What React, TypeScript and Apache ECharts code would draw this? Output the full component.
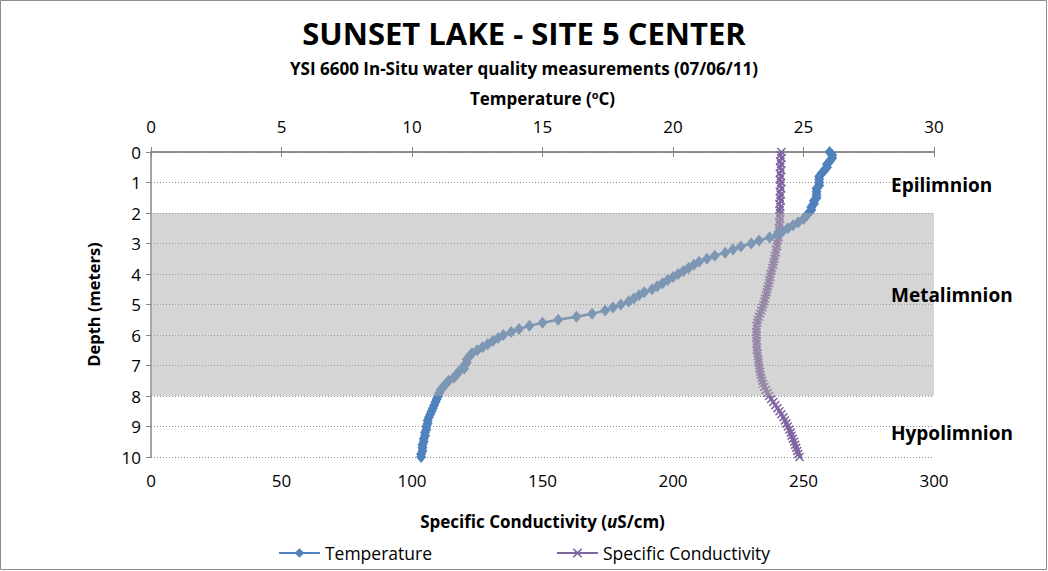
import React, { useEffect, useRef } from "react";
import * as echarts from "echarts";

const depths = [
  0.0, 0.1, 0.2, 0.3, 0.4, 0.5, 0.6, 0.7, 0.8, 0.9,
  1.0, 1.1, 1.2, 1.3, 1.4, 1.5, 1.6, 1.7, 1.8, 1.9,
  2.0, 2.1, 2.2, 2.3, 2.4, 2.5, 2.6, 2.7, 2.8, 2.9,
  3.0, 3.1, 3.2, 3.3, 3.4, 3.5, 3.6, 3.7, 3.8, 3.9,
  4.0, 4.1, 4.2, 4.3, 4.4, 4.5, 4.6, 4.7, 4.8, 4.9,
  5.0, 5.1, 5.2, 5.3, 5.4, 5.5, 5.6, 5.7, 5.8, 5.9,
  6.0, 6.1, 6.2, 6.3, 6.4, 6.5, 6.6, 6.7, 6.8, 6.9,
  7.0, 7.1, 7.2, 7.3, 7.4, 7.5, 7.6, 7.7, 7.8, 7.9,
  8.0, 8.1, 8.2, 8.3, 8.4, 8.5, 8.6, 8.7, 8.8, 8.9,
  9.0, 9.1, 9.2, 9.3, 9.4, 9.5, 9.6, 9.7, 9.8, 9.9,
  10.0,
];

const temperature = [
  26.0, 26.1, 26.1, 26.0, 25.9, 25.9, 25.8, 25.7, 25.6, 25.6,
  25.6, 25.6, 25.5, 25.5, 25.5, 25.5, 25.4, 25.4, 25.3, 25.3,
  25.2, 25.1, 25.0, 24.8, 24.6, 24.4, 24.2, 24.0, 23.7, 23.3,
  23.0, 22.6, 22.3, 22.0, 21.6, 21.3, 21.0, 20.8, 20.6, 20.4,
  20.2, 20.0, 19.8, 19.6, 19.4, 19.2, 18.9, 18.7, 18.5, 18.3,
  18.0, 17.7, 17.4, 16.9, 16.3, 15.6, 15.0, 14.5, 14.1, 13.8,
  13.5, 13.3, 13.1, 12.9, 12.7, 12.5, 12.3, 12.2, 12.1, 12.1,
  12.0, 12.0, 11.8, 11.7, 11.6, 11.4, 11.3, 11.2, 11.1, 11.05,
  11.0, 10.95, 10.9, 10.85, 10.8, 10.75, 10.7, 10.65, 10.6, 10.6,
  10.55, 10.55, 10.5, 10.5, 10.45, 10.45, 10.4, 10.4, 10.4, 10.35,
  10.35,
];

const conductivity = [
  241.5, 241.2, 241.6, 241.0, 241.4, 241.1, 241.5, 240.9, 241.3, 241.0,
  241.4, 241.1, 241.5, 240.9, 241.2, 241.0, 241.3, 240.8, 241.1, 240.9,
  241.0, 240.8, 241.1, 240.7, 240.9, 240.5, 240.7, 240.3, 240.5, 240.1,
  239.8, 239.9, 239.4, 239.5, 239.0, 238.9, 238.6, 238.4, 238.0, 237.8,
  237.4, 237.3, 236.9, 236.8, 236.4, 236.1, 235.9, 235.6, 235.2, 235.0,
  234.6, 234.3, 233.8, 233.4, 232.9, 232.5, 232.3, 232.0, 232.1, 231.9,
  232.0, 231.9, 232.1, 232.0, 232.2, 232.1, 232.4, 232.5, 232.7, 232.8,
  233.0, 233.1, 233.4, 233.6, 233.9, 234.2, 234.5, 235.0, 235.6, 236.2,
  236.8, 237.6, 238.4, 239.2, 240.0, 240.8, 241.5, 242.3, 242.9, 243.5,
  244.0, 244.6, 245.1, 245.4, 245.9, 246.4, 246.8, 247.2, 247.6, 248.0,
  248.5,
];

const metalimnionTop = 2;
const metalimnionBottom = 8;

const zoneLabels = ["Epilimnion", "Metalimnion", "Hypolimnion"];

const FONT = "'Open Sans', 'Noto Sans', sans-serif";
const X_MARK =
  "path://M0,1.2 L1.2,0 L5,3.8 L8.8,0 L10,1.2 L6.2,5 L10,8.8 L8.8,10 L5,6.2 L1.2,10 L0,8.8 L3.8,5 Z";

export default function App() {
  const ref = useRef<HTMLDivElement>(null);

  useEffect(() => {
    document.body.style.margin = "0";
    const chart = echarts.init(ref.current!, null, { renderer: "svg" });
    const axisGray = "#868686";

    const option: any = {
      animation: false,
      backgroundColor: "#ffffff",
      textStyle: { fontFamily: FONT },
      title: {
        text: "SUNSET LAKE - SITE 5 CENTER",
        subtext: "YSI 6600 In-Situ water quality measurements (07/06/11)",
        left: "center",
        top: 12,
        itemGap: 12,
        textStyle: { fontFamily: FONT, fontSize: 31, fontWeight: "bold", color: "#000" },
        subtextStyle: { fontFamily: FONT, fontSize: 17, fontWeight: "bold", color: "#000" },
      },
      legend: {
        data: ["Temperature", "Specific Conductivity"],
        bottom: 4,
        left: "center",
        itemWidth: 41,
        itemHeight: 12,
        itemGap: 124,
        textStyle: { fontFamily: FONT, fontSize: 17.5, color: "#000" },
      },
      grid: { left: 151, right: 114, top: 152, bottom: 114 },
      xAxis: [
        {
          type: "value",
          position: "bottom",
          min: 0,
          max: 300,
          interval: 50,
          name: "Specific Conductivity ({i|u}S/cm)",
          nameLocation: "middle",
          nameGap: 56,
          nameTextStyle: {
            fontFamily: FONT,
            fontSize: 17,
            fontWeight: "bold",
            color: "#000",
            rich: { i: { fontFamily: FONT, fontSize: 17, fontWeight: "bold", fontStyle: "italic", color: "#000" } },
          },
          axisLine: { show: true, lineStyle: { color: axisGray, width: 1.5 } },
          axisTick: { show: true, length: 5, lineStyle: { color: axisGray } },
          axisLabel: { fontFamily: FONT, fontSize: 17, color: "#000", margin: 15 },
          splitLine: { show: false },
        },
        {
          type: "value",
          position: "top",
          min: 0,
          max: 30,
          interval: 5,
          name: "Temperature ({s|o}C)",
          nameLocation: "middle",
          nameGap: 44,
          nameTextStyle: {
            fontFamily: FONT,
            fontSize: 17,
            fontWeight: "bold",
            color: "#000",
            rich: { s: { fontFamily: FONT, fontSize: 11, fontWeight: "bold", color: "#000", verticalAlign: "top", padding: [0, 0, 8, 0] } },
          },
          axisLine: { show: true, lineStyle: { color: axisGray, width: 1.5 } },
          axisTick: { show: true, length: 5, lineStyle: { color: axisGray } },
          axisLabel: { fontFamily: FONT, fontSize: 17, color: "#000", margin: 17 },
          splitLine: { show: false },
        },
      ],
      yAxis: {
        type: "value",
        inverse: true,
        min: 0,
        max: 10,
        interval: 1,
        name: "Depth (meters)",
        nameLocation: "middle",
        nameGap: 49,
        nameTextStyle: { fontFamily: FONT, fontSize: 16.5, fontWeight: "bold", color: "#000" },
        axisLine: { show: true, lineStyle: { color: axisGray, width: 1.5 } },
        axisTick: { show: true, length: 5, lineStyle: { color: axisGray } },
        axisLabel: { fontFamily: FONT, fontSize: 17, color: "#000", margin: 10 },
        splitLine: { show: true, lineStyle: { color: "#8a8a8a", type: [1, 2], width: 1 } },
      },
      series: [
        {
          name: "Temperature",
          type: "line",
          xAxisIndex: 1,
          data: depths.map((d, i) => [temperature[i], d]),
          symbol: "diamond",
          symbolSize: [10, 12],
          lineStyle: { color: "#4F81BD", width: 2.5 },
          itemStyle: { color: "#4F81BD" },
          z: 3,
        },
        {
          name: "Specific Conductivity",
          type: "line",
          xAxisIndex: 0,
          data: depths.map((d, i) => [conductivity[i], d]),
          symbol: X_MARK,
          symbolSize: 9,
          lineStyle: { color: "#8064A2", width: 2.5 },
          itemStyle: { color: "#8064A2" },
          z: 2,
        },
        {
          name: "band",
          type: "line",
          xAxisIndex: 0,
          data: [],
          z: 5,
          silent: true,
          markArea: {
            silent: true,
            z: 10,
            itemStyle: { color: "rgba(172,172,172,0.5)" },
            data: [[{ yAxis: metalimnionTop }, { yAxis: metalimnionBottom }]],
          },
        },
      ],
      graphic: [
        {
          type: "rect",
          z: 100,
          shape: { x: 0.5, y: 0.5, width: 1046, height: 569 },
          style: { fill: "none", stroke: "#8c8c8c", lineWidth: 1 },
          silent: true,
        },
        ...zoneLabels.map((t, i) => ({
          type: "text",
          z: 100,
          left: 891,
          top: [175, 285, 423][i],
          style: { text: t, fontFamily: FONT, fontSize: 19, fontWeight: "bold", fill: "#000" },
        })),
      ],
    };

    chart.setOption(option);
    return () => chart.dispose();
  }, []);

  return <div ref={ref} style={{ width: 1048, height: 571 }} />;
}
